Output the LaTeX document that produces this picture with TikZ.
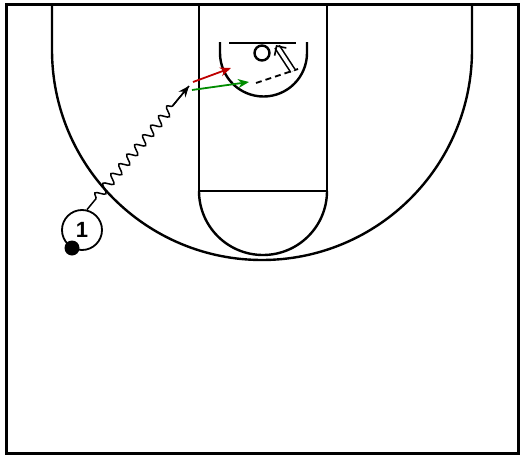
\documentclass[tikz,border=0pt]{standalone}
\usepackage{fontspec}
\setmainfont{Liberation Sans}
\usetikzlibrary{arrows.meta,decorations.pathmorphing,calc}
\begin{document}
\begin{tikzpicture}[x=1pt,y=-1pt,
  court/.style={line width=2.4pt,black},
  border/.style={line width=3pt,black},
  player/.style={circle,draw,line width=1.8pt,minimum size=40pt,inner sep=0pt,fill=white,font=\bfseries\fontsize{22}{22}\selectfont},
  ballnode/.style={circle,fill=black,minimum size=15pt,inner sep=0pt},
  movearrow/.style={line width=1.8pt,-{Stealth[length=11pt,width=9pt]}},
  dribble/.style={line width=1.5pt,decorate,decoration={snake,segment length=12.5pt,amplitude=4.5pt,pre length=14pt,post length=22pt}}
]
\useasboundingbox (0,0) rectangle (525,458);
\fill[white] (0,0) rectangle (525,458);
% border
\draw[border] (6,4) rectangle (518,453);
% three point line
\draw[court] (52,4) -- (52,50) arc[start angle=180,end angle=0,radius=210] -- (472,4);
% lane
\draw[court] (199,4) -- (199,191) -- (327,191) -- (327,4);
% free throw semicircle
\draw[court] (199,191) arc[start angle=180,end angle=0,radius=64];
% restricted area
\draw[court] (220,42) -- (220,53) arc[start angle=180,end angle=0,radius=43.5] -- (307,42);
% backboard
\draw[court] (229,43) -- (296,43);
% rim
\node[circle,draw,line width=2.4pt,minimum size=15pt,inner sep=0pt] (rim) at (262,53) {};
% player and ball
\node[player] (p1) at (82,230) {1};
\node[ballnode] (ball) at (72,248) {};
% dribble
\coordinate (dribstart) at ($(p1.north)+(5,0.5)$);
\coordinate (dribend) at (189,86);
\coordinate (dribhead) at ($(dribstart)!0.84!(dribend)$);
\draw[dribble] (dribstart) -- (dribend);
\draw[line width=1.5pt,-{Stealth[length=11pt,width=9pt]}] (dribhead) -- (dribend);
% red and green arrows
\coordinate (rs) at (193,82);
\coordinate (re) at (231,68);
\coordinate (gs) at (192,90);
\coordinate (ge) at (249,82);
\draw[movearrow,red!75!black] (rs) -- (re);
\draw[movearrow,green!55!black] (gs) -- (ge);
% dashed
\coordinate (ds) at (256,83);
\coordinate (de) at (298,69);
\draw[line width=1.8pt,dash pattern=on 6pt off 4pt] (ds) -- (de);
% shot arrow
\coordinate (ss) at (293,71);
\coordinate (se) at (276,45);
\draw[line width=1.6pt,double,double distance=3.5pt,-{Straight Barb[length=7pt,width=14pt,line width=1.6pt]}] (ss) -- (se);
\end{tikzpicture}
\end{document}
